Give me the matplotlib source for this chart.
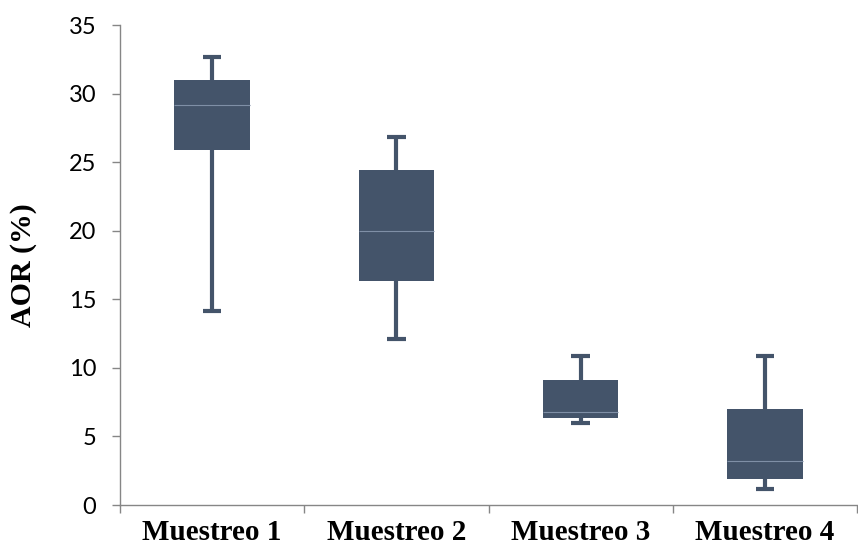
import matplotlib.pyplot as plt
import numpy as np

categories = ["Muestreo 1", "Muestreo 2", "Muestreo 3", "Muestreo 4"]
whisker_low = [14.15, 12.1, 6.0, 1.15]
q1 = [25.9, 16.3, 6.35, 1.9]
median = [29.2, 20.0, 6.8, 3.2]
q3 = [31.0, 24.4, 9.1, 7.0]
whisker_high = [32.7, 26.8, 10.9, 10.9]

box_color = "#44546A"
median_color = "#7F8FA6"
axis_color = "#868686"

fig = plt.figure(figsize=(8.58, 5.51), dpi=100)
ax = fig.add_axes([120 / 858, 1 - 505 / 551, 737 / 858, 480 / 551])

x = np.arange(1, len(categories) + 1)
lo = np.array(whisker_low)
hi = np.array(whisker_high)
b1 = np.array(q1)
b3 = np.array(q3)
med = np.array(median)

# whiskers
ax.vlines(x, lo, b1, color=box_color, lw=3, zorder=2)
ax.vlines(x, b3, hi, color=box_color, lw=3, zorder=2)
ax.hlines(lo, x - 0.05, x + 0.05, color=box_color, lw=3, zorder=2)
ax.hlines(hi, x - 0.05, x + 0.05, color=box_color, lw=3, zorder=2)

# boxes, split at the median
w = 0.41
ax.bar(x, med - b1, bottom=b1, width=w, color=box_color, zorder=3)
ax.bar(x, b3 - med, bottom=med, width=w, color=box_color, zorder=3)
ax.hlines(med, x - w / 2, x + w / 2, color=median_color, lw=0.8, zorder=4)

ax.set_xlim(0.5, 4.5)
ax.set_ylim(0, 35)
ax.set_yticks(range(0, 36, 5))
ax.set_yticklabels([str(v) for v in range(0, 36, 5)], fontsize=17, family="Lato")

ax.set_xticks(x)
ax.set_xticklabels(categories, fontsize=21, fontweight="bold", family="Liberation Serif")
ax.set_xticks(np.arange(0.5, 4.6, 1), minor=True)
ax.tick_params(axis="x", which="major", length=0, pad=10)
ax.tick_params(axis="x", which="minor", length=6, color=axis_color, width=1)
ax.tick_params(axis="y", length=6, color=axis_color, width=1, pad=11)

ax.set_ylabel("AOR (%)", fontsize=21.5, fontweight="bold", family="Liberation Serif")
ax.yaxis.set_label_coords(-0.113, 0.5)

for side in ["top", "right"]:
    ax.spines[side].set_visible(False)
for side in ["left", "bottom"]:
    ax.spines[side].set_color(axis_color)
    ax.spines[side].set_linewidth(1)

fig.savefig("out.png", dpi=100)
